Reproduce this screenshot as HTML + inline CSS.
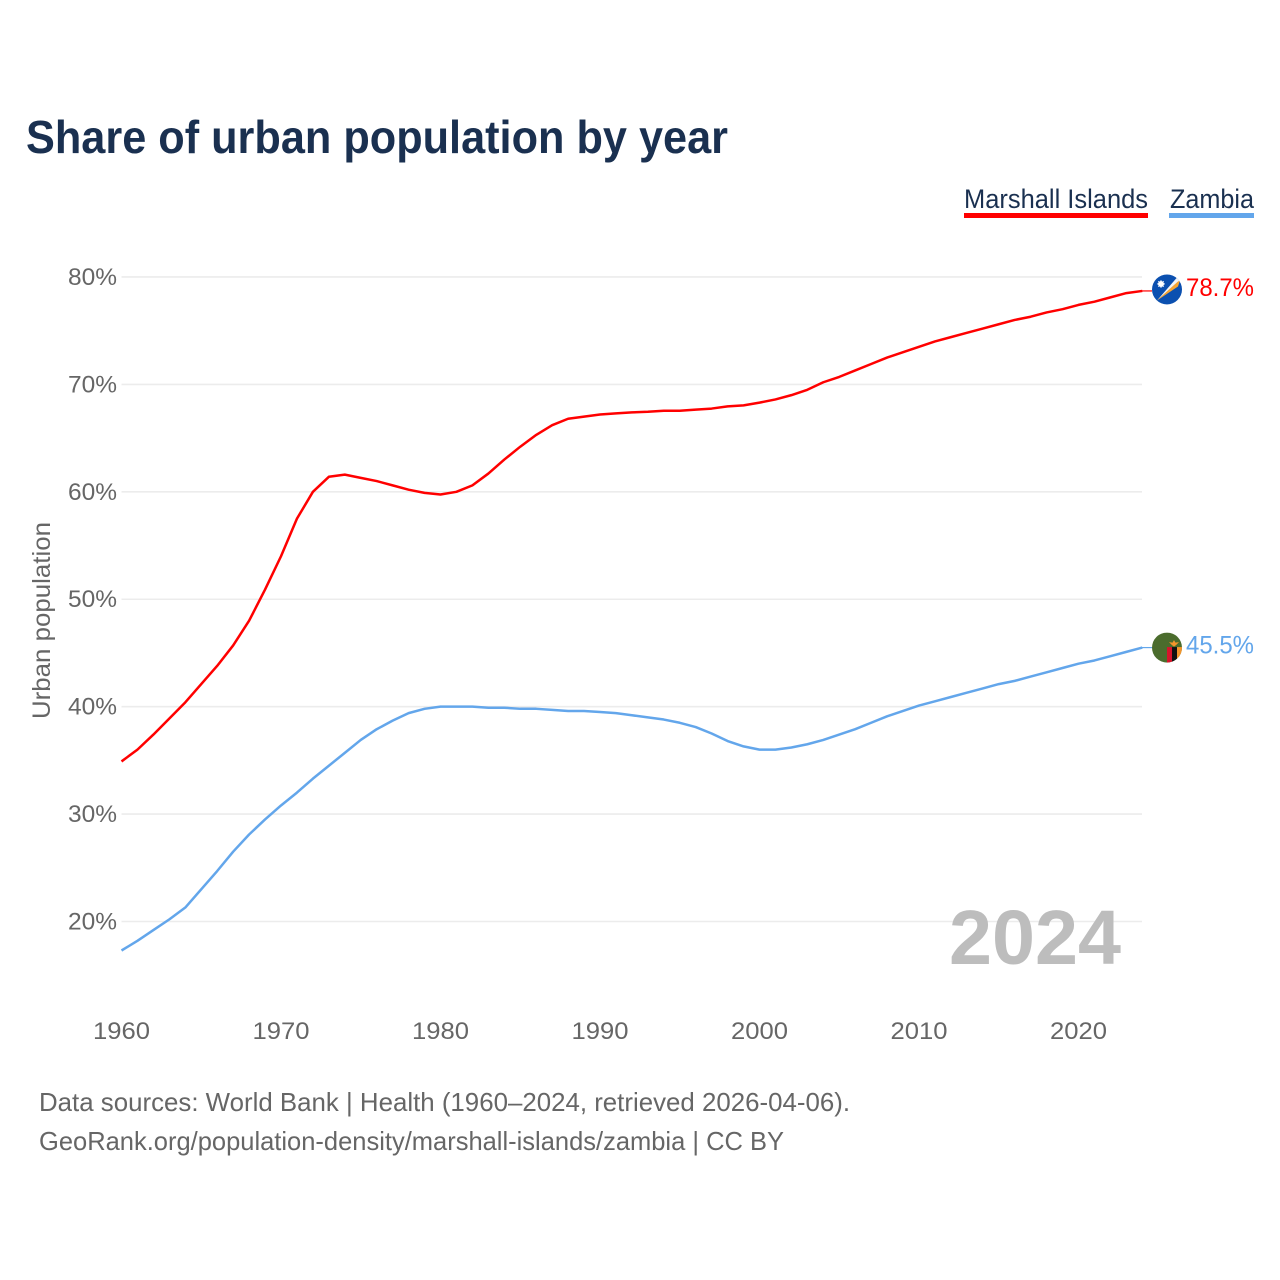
<!DOCTYPE html>
<html lang="en">
<head>
<meta charset="utf-8">
<title>Share of urban population by year</title>
<style>
html,body{margin:0;padding:0;background:#fff;width:1280px;height:1280px;overflow:hidden}
svg{display:block;font-family:"Liberation Sans",sans-serif}
</style>
</head>
<body>
<svg id="chart" width="1280" height="1280" viewBox="0 0 1280 1280" xmlns="http://www.w3.org/2000/svg">
  <rect width="1280" height="1280" fill="#fff"/>
  <text x="26" y="153" font-size="46" font-weight="700" fill="#1a3050" textLength="702" lengthAdjust="spacingAndGlyphs">Share of urban population by year</text>

  <g>
    <text x="964" y="208" font-size="27" fill="#1a3050" textLength="184" lengthAdjust="spacingAndGlyphs">Marshall Islands</text>
    <rect x="964" y="213" width="184" height="5" fill="#ff0000"/>
  </g>
  <g>
    <text x="1170" y="208" font-size="27" fill="#1a3050" textLength="84" lengthAdjust="spacingAndGlyphs">Zambia</text>
    <rect x="1169" y="213" width="85" height="5" fill="#63a6eb"/>
  </g>

  <g id="grid"></g>
  <g id="y-ticks"></g>
  <g id="x-ticks"></g>

  <text transform="translate(50,620.5) rotate(-90)" text-anchor="middle" font-size="25" fill="#666" textLength="197" lengthAdjust="spacingAndGlyphs">Urban population</text>

  <text x="949" y="964" font-size="77" font-weight="700" fill="#bdbdbd" textLength="172" lengthAdjust="spacingAndGlyphs">2024</text>

  <g id="series"></g>

  <defs>
    <clipPath id="flag-clip"><circle cx="0" cy="0" r="15"/></clipPath>
  </defs>

  <g id="flag-marshall">
    <g clip-path="url(#flag-clip)">
      <rect x="-15" y="-15" width="30" height="30" fill="#0b50b0"/>
      <polygon points="-10,11 10,-7 13,-9" fill="#f7a531"/>
      <polygon points="-10,11 10,-12 13,-9 10,-7" fill="#f4f4f4"/>
      <polygon points="-10,11 11,-8 13,-9 11,-3" fill="#f7a531"/>
      <circle cx="-6" cy="-5.5" r="3" fill="#fff"/>
      <path d="M-6,-9.5 V-1.5 M-10,-5.5 H-2 M-8.8,-8.3 L-3.2,-2.7 M-3.2,-8.3 L-8.8,-2.7" stroke="#fff" stroke-width="0.8"/>
    </g>
  </g>

  <g id="flag-zambia">
    <g clip-path="url(#flag-clip)">
      <rect x="-15" y="-15" width="30" height="30" fill="#4b6c2d"/>
      <rect x="0" y="-0.5" width="5" height="17" fill="#d7142b"/>
      <rect x="5" y="-0.5" width="5" height="17" fill="#111"/>
      <rect x="10" y="-0.5" width="5" height="17" fill="#f3952b"/>
      <polygon points="2,-5.5 5.5,-5 7,-7.5 8.5,-5 12,-5.5 9,-2.5 7,-1 5,-2.5" fill="#f3952b"/>
    </g>
  </g>

  <g id="end-labels"></g>

  <text x="39" y="1111" font-size="26" fill="#666" textLength="811" lengthAdjust="spacingAndGlyphs">Data sources: World Bank | Health (1960–2024, retrieved 2026-04-06).</text>
  <text x="39" y="1150" font-size="26" fill="#666" textLength="745" lengthAdjust="spacingAndGlyphs">GeoRank.org/population-density/marshall-islands/zambia | CC BY</text>
</svg>

<script>
var startYear = 1960;
var xTickYears = [1960, 1970, 1980, 1990, 2000, 2010, 2020];
var yTickValues = [20, 30, 40, 50, 60, 70, 80];
var marshallValues = [
  34.9, 36.0, 37.4, 38.9, 40.4, 42.1, 43.8, 45.7, 48.0, 50.9,
  54.0, 57.5, 60.0, 61.4, 61.6, 61.3, 61.0, 60.6, 60.2, 59.9,
  59.75, 60.0, 60.6, 61.7, 63.0, 64.2, 65.3, 66.2, 66.8, 67.0,
  67.2, 67.3, 67.4, 67.45, 67.55, 67.55, 67.65, 67.75, 67.95, 68.05,
  68.3, 68.6, 69.0, 69.5, 70.2, 70.7, 71.3, 71.9, 72.5, 73.0,
  73.5, 74.0, 74.4, 74.8, 75.2, 75.6, 76.0, 76.3, 76.7, 77.0,
  77.4, 77.7, 78.1, 78.5, 78.7
];
var zambiaValues = [
  17.3, 18.2, 19.2, 20.2, 21.3, 23.0, 24.7, 26.5, 28.1, 29.5,
  30.8, 32.0, 33.3, 34.5, 35.7, 36.9, 37.9, 38.7, 39.4, 39.8,
  40.0, 40.0, 40.0, 39.9, 39.9, 39.8, 39.8, 39.7, 39.6, 39.6,
  39.5, 39.4, 39.2, 39.0, 38.8, 38.5, 38.1, 37.5, 36.8, 36.3,
  36.0, 36.0, 36.2, 36.5, 36.9, 37.4, 37.9, 38.5, 39.1, 39.6,
  40.1, 40.5, 40.9, 41.3, 41.7, 42.1, 42.4, 42.8, 43.2, 43.6,
  44.0, 44.3, 44.7, 45.1, 45.5
];

var NS = 'http://www.w3.org/2000/svg';
function xScale(year) { return 121.5 + (year - 1960) * 15.95; }
function yScale(value) { return 921.5 - (value - 20) * 10.742; }
function make(tag, parent, props) {
  var el = document.createElementNS(NS, tag);
  for (var k in props) { el.setAttribute(k, props[k]); }
  parent.appendChild(el);
  return el;
}

var gridGroup = document.getElementById('grid');
var yGroup = document.getElementById('y-ticks');
yTickValues.forEach(function (v) {
  var line = make('line', gridGroup, { x1: 121.5, x2: 1142, y1: yScale(v), y2: yScale(v), stroke: '#ececec', 'stroke-width': 1.6 });
  
  
  var label = make('text', yGroup, { x: 117, y: yScale(v) + 8, 'text-anchor': 'end', 'font-size': 24, fill: '#666', textLength: 49, lengthAdjust: 'spacingAndGlyphs' });
  label.textContent = v + '%';
  
  
});

var xGroup = document.getElementById('x-ticks');
xTickYears.forEach(function (year) {
  var label = make('text', xGroup, { x: xScale(year), y: 1039, 'text-anchor': 'middle', 'font-size': 24, fill: '#666', textLength: 57, lengthAdjust: 'spacingAndGlyphs' });
  label.textContent = String(year);
  
  
});

function linePath(values) {
  return values.map(function (v, i) {
    return (i ? 'L' : 'M') + xScale(startYear + i).toFixed(2) + ',' + yScale(v).toFixed(2);
  }).join(' ');
}

var seriesGroup = document.getElementById('series');
var labelGroup = document.getElementById('end-labels');

var marshallLine = make('path', seriesGroup, { d: linePath(marshallValues), fill: 'none', stroke: '#ff0000', 'stroke-width': 2.5, 'stroke-linejoin': 'round' });



var zambiaLine = make('path', seriesGroup, { d: linePath(zambiaValues), fill: 'none', stroke: '#63a6eb', 'stroke-width': 2.5, 'stroke-linejoin': 'round' });



var lastMarshall = marshallValues[marshallValues.length - 1];
var lastZambia = zambiaValues[zambiaValues.length - 1];

var marshallLeader = make('line', seriesGroup, { x1: 1142, x2: 1152, y1: yScale(lastMarshall), y2: yScale(lastMarshall), stroke: '#ff0000', 'stroke-width': 1.2 });



var zambiaLeader = make('line', seriesGroup, { x1: 1142, x2: 1152, y1: yScale(lastZambia), y2: yScale(lastZambia), stroke: '#63a6eb', 'stroke-width': 1.2 });



document.getElementById('flag-marshall').setAttribute('transform', 'translate(1167,' + (yScale(lastMarshall) - 1.5) + ')');
document.getElementById('flag-zambia').setAttribute('transform', 'translate(1167,' + (yScale(lastZambia)) + ')');

var marshallLabel = make('text', labelGroup, { x: 1254, y: yScale(lastMarshall) + 5, 'text-anchor': 'end', 'font-size': 25, fill: '#ff0000', textLength: 68, lengthAdjust: 'spacingAndGlyphs' });
marshallLabel.textContent = lastMarshall.toFixed(1) + '%';



var zambiaLabel = make('text', labelGroup, { x: 1254, y: yScale(lastZambia) + 6, 'text-anchor': 'end', 'font-size': 25, fill: '#63a6eb', textLength: 68, lengthAdjust: 'spacingAndGlyphs' });
zambiaLabel.textContent = lastZambia.toFixed(1) + '%';


</script>
</body>
</html>
